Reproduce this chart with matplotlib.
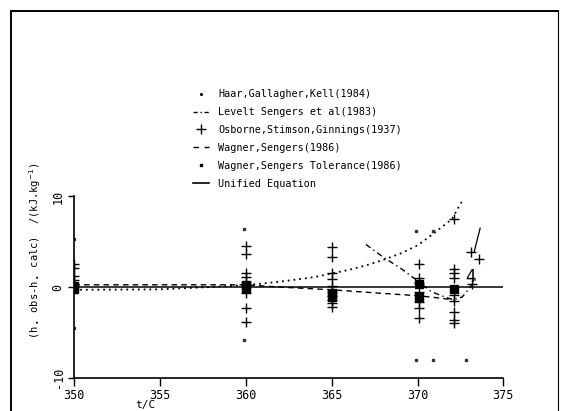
import matplotlib
matplotlib.use('Agg')
import matplotlib.pyplot as plt
from matplotlib.lines import Line2D

# Osborne, Stimson, Ginnings (1937) residuals
osb_t = [350] * 5 + [360] * 8 + [365] * 10 + [370.1] * 7 + [372.1] * 9 + [373.1, 373.6, 373.2]
osb_y = [2.5, 2.1, 1.2, 0.8, 0.3,
         4.5, 3.6, 1.6, 1.1, 0.6, -0.6, -2.3, -3.8,
         4.4, 3.3, 1.6, 0.9, 0.1, -0.5, -1.0, -1.4, -1.8, -2.2,
         2.6, 1.0, 0.5, -0.5, -1.6, -2.3, -3.4,
         7.5, 2.0, 1.5, 1.0, -0.9, -1.5, -2.8, -3.6, -4.0,
         3.9, 3.1, 0.3]

# overlapping points drawn as solid blobs
blob_t = [350, 350, 360, 360, 365, 365, 370.1, 370.1, 372.1]
blob_y = [0.1, -0.2, 0.2, -0.1, -0.7, -1.1, 0.3, -1.1, -0.2]

# Wagner, Sengers tolerance (1986)
tol_t = [350, 350, 359.9, 359.9, 369.9, 369.9, 370.9, 370.9, 372.8]
tol_y = [5.3, -4.5, 6.4, -5.8, 6.2, -8.0, 6.2, -8.0, -8.0]

# Haar, Gallagher, Kell (1984)
haar_t = [350, 355, 360, 362, 364, 365, 366, 367, 368, 369, 370, 371, 372, 372.6]
haar_y = [-0.3, -0.25, 0.2, 0.6, 1.1, 1.5, 1.9, 2.4, 3.0, 3.7, 4.6, 6.0, 7.5, 9.5]

# Levelt Sengers et al (1983)
lev_t = [367.0, 368.0, 369.0, 370.0, 370.8, 371.6, 372.1, 372.6, 373.0, 373.4]
lev_y = [4.7, 3.3, 2.1, 0.7, -0.5, -1.1, -1.4, -1.1, -0.2, 0.9]

# Wagner, Sengers (1986)
wag_t = [350, 355, 360, 362, 365, 368, 370, 371, 372.1]
wag_y = [0.25, 0.25, 0.25, 0.0, -0.3, -0.7, -0.95, -1.15, -1.4]

# Unified equation
uni_t = [350, 375]
uni_y = [0, 0]

# handwritten marks on the scan
scribble_t = [373.65, 373.3]
scribble_y = [6.5, 3.9]
note_t, note_y, note_s = 373.1, 1.1, '4'

labels = ['Haar,Gallagher,Kell(1984)', 'Levelt Sengers et al(1983)',
          'Osborne,Stimson,Ginnings(1937)', 'Wagner,Sengers(1986)',
          'Wagner,Sengers Tolerance(1986)', 'Unified Equation']

plt.rcParams['font.family'] = ['DejaVu Sans Mono']
fig = plt.figure(figsize=(5.63, 4.11), dpi=100)
ax = fig.add_axes([0.132, 0.081, 0.762, 0.441])

ax.plot(uni_t, uni_y, '-', color='k', lw=1.1)
ax.plot(haar_t, haar_y, color='k', lw=1.3, ls=(0, (1, 2.2)))
ax.plot(lev_t, lev_y, color='k', lw=1.0, ls=(0, (4, 2.5, 1, 2.5)))
ax.plot(wag_t, wag_y, color='k', lw=1.0, ls=(0, (4, 3)))
ax.plot(osb_t, osb_y, '+', color='k', ms=7.5, mew=1.0)
ax.plot(blob_t, blob_y, 's', color='k', ms=6)
ax.plot(tol_t, tol_y, 's', color='#333333', ms=2)
ax.plot(scribble_t, scribble_y, '-', color='k', lw=0.9)
ax.text(note_t, note_y, note_s, fontsize=12, ha='center', va='center', family='DejaVu Sans')

ax.set_xlim(350, 375)
ax.set_ylim(-10, 10)
ax.set_xticks([350, 355, 360, 365, 370, 375])
ax.set_yticks([-10, 0, 10])
ax.set_yticklabels(['-10', '0', '10'], rotation=90, va='center')
ax.tick_params(axis='x', direction='out', length=6, width=1.0, labelsize=8.5, pad=2)
ax.tick_params(axis='y', direction='out', length=4, width=1.0, labelsize=8.5, pad=3)
for s in ['top', 'right']:
    ax.spines[s].set_visible(False)
for s in ['left', 'bottom']:
    ax.spines[s].set_linewidth(1.2)

ax.set_xlabel('t/C', fontsize=8)
ax.xaxis.set_label_coords(0.165, -0.125)
ax.set_ylabel(r'(h$_\bullet$ obs-h$_\bullet$ calc)  /(kJ.kg$^{-1}$)', fontsize=7.5)
ax.yaxis.set_label_coords(-0.072, 0.70)

handles = [
    Line2D([], [], ls='none', marker='.', ms=2.5, color='k'),
    Line2D([], [], color='k', lw=1.0, ls=(0, (3, 2, 1, 2))),
    Line2D([], [], ls='none', marker='+', ms=7, mew=1.0, color='k'),
    Line2D([], [], color='k', lw=1.0, ls=(0, (4, 4))),
    Line2D([], [], ls='none', marker='s', ms=2, color='k'),
    Line2D([], [], color='k', lw=1.2),
]
fig.legend(handles, labels, loc='upper left', bbox_to_anchor=(0.342, 0.783),
           frameon=False, fontsize=7.3, handlelength=1.6, handletextpad=0.9,
           labelspacing=0.78, borderpad=0, borderaxespad=0)

# frame of the scanned page
fig.add_artist(Line2D([0.0195, 0.0195], [0.0, 0.973], color='k', lw=1.4, transform=fig.transFigure))
fig.add_artist(Line2D([0.0195, 0.991], [0.973, 0.973], color='k', lw=1.4, transform=fig.transFigure))
fig.add_artist(Line2D([0.991, 0.991], [0.973, 0.0], color='k', lw=0.8, transform=fig.transFigure))

fig.savefig('out.png', dpi=100)
